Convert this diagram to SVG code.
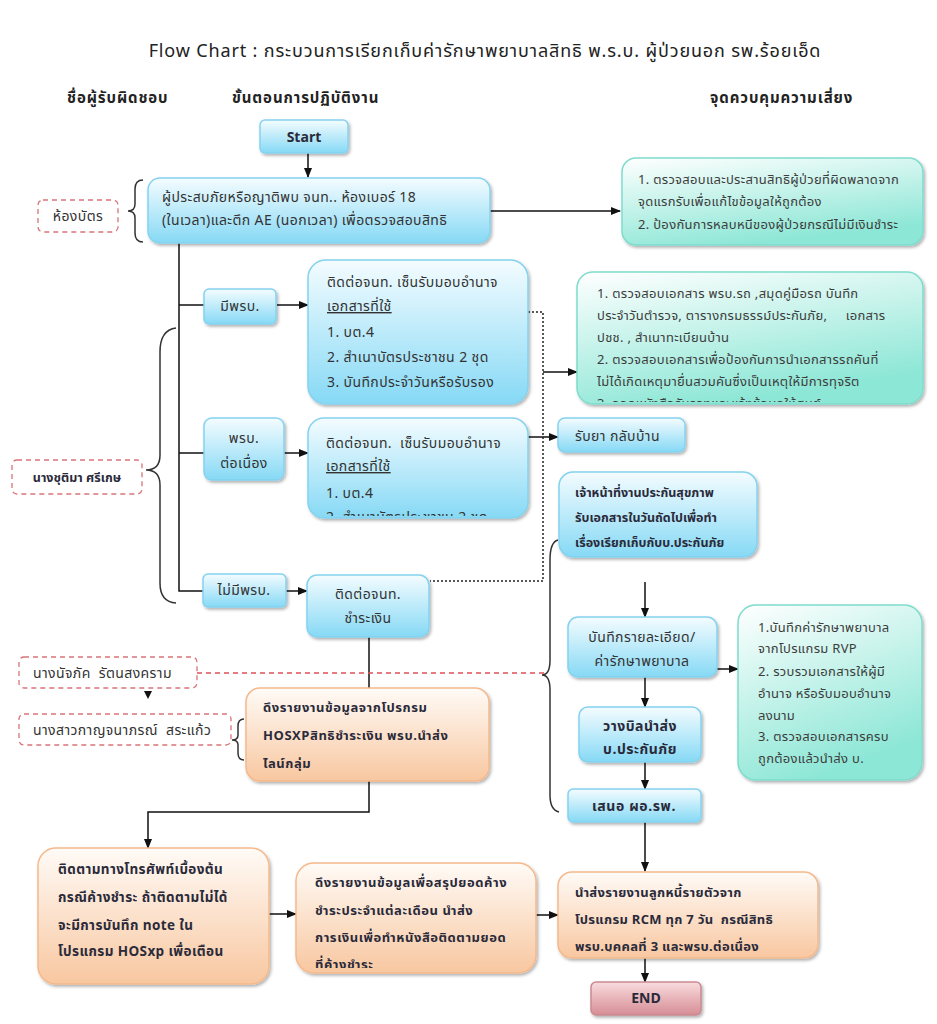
<svg xmlns="http://www.w3.org/2000/svg" width="937" height="1024" viewBox="0 0 937 1024">
<defs>
<style>
text{font-family:"Noto Sans Thai","Noto Sans Thai UI",Tahoma,"Noto Sans","DejaVu Sans",sans-serif;fill:#333;white-space:pre;}
.t{font-size:14px;letter-spacing:0.4px;}
.tb{font-size:13px;font-weight:bold;fill:#2a2a3a;}
.tw{letter-spacing:0.55px;}
.r{font-size:13px;letter-spacing:0.3px;fill:#3c3c3c;}
.h{font-size:15px;font-weight:bold;fill:#222;letter-spacing:0.9px;}
.blue{fill:url(#gBlue);stroke:#84d2ef;stroke-width:1.5;filter:url(#sh);}
.teal{fill:url(#gTeal);stroke:#7fdccd;stroke-width:1.5;filter:url(#sh);}
.org{fill:url(#gOrg);stroke:#f4b98c;stroke-width:1.5;filter:url(#sh);}
.end{fill:url(#gEnd);stroke:#c98a90;stroke-width:1.5;filter:url(#sh);}
.dash{fill:#fff;stroke:#d9747a;stroke-width:1.3;stroke-dasharray:5,4;}
.ln{fill:none;stroke:#111;stroke-width:1.5;}
.arr{fill:none;stroke:#111;stroke-width:1.5;marker-end:url(#ah);}
.dot{fill:none;stroke:#222;stroke-width:1.5;stroke-dasharray:2,2;}
.red{fill:none;stroke:#e0505a;stroke-width:1.3;stroke-dasharray:5,4;}
.br{fill:none;stroke:#333;stroke-width:1.5;}
</style>
<linearGradient id="gBlue" x1="0" y1="0" x2="0" y2="1"><stop offset="0" stop-color="#f4fcff"/><stop offset="1" stop-color="#86d9f5"/></linearGradient>
<linearGradient id="gTeal" x1="0" y1="0" x2="0.4" y2="1"><stop offset="0" stop-color="#ffffff"/><stop offset="1" stop-color="#8de7d6"/></linearGradient>
<linearGradient id="gOrg" x1="0" y1="0" x2="0" y2="1"><stop offset="0" stop-color="#fffbf7"/><stop offset="1" stop-color="#f8c7a0"/></linearGradient>
<linearGradient id="gEnd" x1="0" y1="0" x2="0" y2="1"><stop offset="0" stop-color="#f8dcde"/><stop offset="1" stop-color="#d68d95"/></linearGradient>
<filter id="sh" x="-10%" y="-10%" width="125%" height="130%"><feDropShadow dx="1.5" dy="2" stdDeviation="1.5" flood-color="#000" flood-opacity="0.3"/></filter>
<marker id="ah" markerWidth="10" markerHeight="8" refX="9" refY="4" orient="auto" markerUnits="userSpaceOnUse"><path d="M0,0 L10,4 L0,8 z" fill="#111"/></marker>
<clipPath id="c2"><rect x="577" y="272" width="346" height="130"/></clipPath>
<clipPath id="c3"><rect x="308" y="418" width="220" height="98"/></clipPath>
<clipPath id="cm"><rect x="296" y="863" width="240" height="105"/></clipPath>
<clipPath id="cr"><rect x="558" y="872" width="260" height="80"/></clipPath>
</defs>

<g id="title">
<text x="485" y="57" text-anchor="middle" style="font-size:18px;fill:#222;letter-spacing:0.85px;">Flow Chart : กระบวนการเรียกเก็บค่ารักษาพยาบาลสิทธิ พ.ร.บ. ผู้ป่วยนอก รพ.ร้อยเอ็ด</text>
<text class="h" x="67" y="103">ชื่อผู้รับผิดชอบ</text>
<text class="h" x="232" y="103">ขั้นตอนการปฏิบัติงาน</text>
<text class="h" x="710" y="103">จุดควบคุมความเสี่ยง</text>
</g>

<g id="connectors">
<path class="arr" d="M308,153 V177"/>
<path class="arr" d="M490,211 H620"/>
<path class="ln" d="M179,243 V591 H203"/>
<path class="ln" d="M179,305 H204"/>
<path class="arr" d="M277,305 H308"/>
<path class="ln" d="M179,453 H204"/>
<path class="arr" d="M284,453 H308"/>
<path class="arr" d="M528,437 H558"/>
<path class="dot" d="M528,312 H543 V581 H430"/>
<path class="arr" d="M543,372 H577"/>
<path class="arr" d="M286,591 H307"/>
<path class="ln" d="M369,637 V688"/>
<path class="arr" d="M369,781 V812 H148 V848"/>
<path class="arr" d="M269,914 H296"/>
<path class="arr" d="M536,915 H558"/>
<path class="arr" d="M645,478 V500"/>
<path class="arr" d="M645,582 V617"/>
<path class="arr" d="M717,669 H738"/>
<path class="arr" d="M645,677 V707"/>
<path class="arr" d="M645,762 V789"/>
<path class="arr" d="M645,822 V871"/>
<path class="arr" d="M645,958 V982"/>
<path class="red" d="M197,673 H545"/>
<polygon points="144,691 152,691 148,699" fill="#111"/>
<path class="br" d="M143,180 Q135,180 135,189 L135,204 Q135,211 128,211 Q135,211 135,218 L135,233 Q135,242 143,242"/>
<path class="br" d="M176,328 Q160,330 160,352 L160,455 Q160,470 146,470 Q160,470 160,485 L160,583 Q160,602 176,603"/>
<path class="br" d="M244,719 Q238,719 238,726 L238,735 Q238,740 232,740 Q238,740 238,745 L238,753 Q238,760 244,760"/>
<path class="br" d="M558,540 Q550,542 550,560 L550,660 Q550,675 542,675 Q550,675 550,690 L550,795 Q550,810 559,812"/>
</g>

<g id="start">
<rect class="blue" x="260" y="120" width="88" height="33" rx="5"/>
<text class="tb" x="304" y="142" text-anchor="middle" style="font-size:14px;">Start</text>
</g>

<g id="box1">
<rect class="blue" x="148" y="178" width="342" height="65" rx="12"/>
<text class="t" x="162" y="202">ผู้ประสบภัยหรือญาติพบ จนท.. ห้องเบอร์ 18</text>
<text class="t" x="162" y="225">(ในเวลา)และตึก AE (นอกเวลา) เพื่อตรวจสอบสิทธิ</text>
</g>

<g id="room">
<rect class="dash" x="38" y="200" width="80" height="32" rx="5"/>
<text class="t" x="78" y="221" text-anchor="middle">ห้องบัตร</text>
</g>

<g id="risk1">
<rect class="teal" x="622" y="158" width="301" height="87" rx="14"/>
<text class="r" x="638" y="184">1. ตรวจสอบและประสานสิทธิผู้ป่วยที่ผิดพลาดจาก</text>
<text class="r" x="638" y="206">จุดแรกรับเพื่อแก้ไขข้อมูลให้ถูกต้อง</text>
<text class="r" x="638" y="229">2. ป้องกันการหลบหนีของผู้ป่วยกรณีไม่มีเงินชำระ</text>
</g>

<g id="has">
<rect class="blue" x="204" y="289" width="72" height="35" rx="5"/>
<text class="t" x="240" y="311" text-anchor="middle">มีพรบ.</text>
</g>

<g id="box2">
<rect class="blue" x="308" y="260" width="220" height="144" rx="18"/>
<text class="t" x="327" y="287">ติดต่อจนท. เซ็นรับมอบอำนาจ</text>
<text class="t" x="327" y="311" text-decoration="underline">เอกสารที่ใช้</text>
<text class="t" x="327" y="337">1. บต.4</text>
<text class="t" x="327" y="362">2. สำเนาบัตรประชาชน 2 ชุด</text>
<text class="t" x="327" y="387">3. บันทึกประจำวันหรือรับรอง</text>
</g>

<g id="risk2">
<rect class="teal" x="577" y="272" width="346" height="132" rx="16"/>
<g clip-path="url(#c2)">
<text class="r" x="597" y="298">1. ตรวจสอบเอกสาร พรบ.รถ ,สมุดคู่มือรถ บันทึก</text>
<text class="r" x="597" y="320">ประจำวันตำรวจ, ตารางกรมธรรม์ประกันภัย,     เอกสาร</text>
<text class="r" x="597" y="342">ปชช. , สำเนาทะเบียนบ้าน</text>
<text class="r" x="597" y="364">2. ตรวจสอบเอกสารเพื่อป้องกันการนำเอกสารรถคันที่</text>
<text class="r" x="597" y="386">ไม่ได้เกิดเหตุมายื่นสวมคันซึ่งเป็นเหตุให้มีการทุจริต</text>
<text class="r" x="597" y="408">3. ออกหนังสือรับรองและแจ้งข้อมูลให้ศูนย์</text>
</g>
</g>

<g id="cont">
<rect class="blue" x="204" y="418" width="80" height="62" rx="8"/>
<text class="t" x="244" y="443" text-anchor="middle">พรบ.</text>
<text class="t" x="244" y="468" text-anchor="middle">ต่อเนื่อง</text>
</g>

<g id="box3">
<rect class="blue" x="308" y="418" width="220" height="100" rx="16"/>
<g clip-path="url(#c3)">
<text class="t" x="326" y="448">ติดต่อจนท.  เซ็นรับมอบอำนาจ</text>
<text class="t" x="326" y="471" text-decoration="underline">เอกสารที่ใช้</text>
<text class="t" x="326" y="498">1. บต.4</text>
<text class="t" x="326" y="522">2. สำเนาบัตรประชาชน 2 ชุด</text>
</g>
</g>

<g id="home">
<rect class="blue" x="558" y="418" width="127" height="34" rx="7"/>
<text class="t" x="575" y="441">รับยา กลับบ้าน</text>
</g>

<g id="staff">
<rect class="blue" x="559" y="472" width="198" height="85" rx="14"/>
<text class="tb" x="575" y="497" style="font-size:12.5px;">เจ้าหน้าที่งานประกันสุขภาพ</text>
<text class="tb" x="575" y="522" style="font-size:12.5px;">รับเอกสารในวันถัดไปเพื่อทำ</text>
<text class="tb" x="575" y="547" style="font-size:12.5px;">เรื่องเรียกเก็บกับบ.ประกันภัย</text>
</g>

<g id="chutima">
<rect class="dash" x="12" y="460" width="130" height="34" rx="5"/>
<text class="tb" x="77" y="482" text-anchor="middle" style="font-size:12.5px;">นางชุติมา ศรีเกษ</text>
</g>

<g id="nohas">
<rect class="blue" x="203" y="574" width="83" height="33" rx="5"/>
<text class="t" x="244" y="595" text-anchor="middle">ไม่มีพรบ.</text>
</g>

<g id="pay">
<rect class="blue" x="307" y="575" width="122" height="62" rx="10"/>
<text class="t" x="368" y="599" text-anchor="middle">ติดต่อจนท.</text>
<text class="t" x="368" y="623" text-anchor="middle">ชำระเงิน</text>
</g>

<g id="natchaphak">
<rect class="dash" x="19" y="657" width="178" height="31" rx="5"/>
<text class="t" x="33" y="678">นางนัจภัค  รัตนสงคราม</text>
</g>

<g id="kanchana">
<rect class="dash" x="19" y="714" width="212" height="31" rx="5"/>
<text class="t" x="33" y="735">นางสาวกาญจนาภรณ์  สระแก้ว</text>
</g>

<g id="hosxp">
<rect class="org" x="246" y="688" width="243" height="93" rx="14"/>
<text class="tb tw" x="263" y="712">ดึงรายงานข้อมูลจากโปรกรม</text>
<text class="tb tw" x="263" y="740">HOSXPสิทธิชำระเงิน พรบ.นำส่ง</text>
<text class="tb tw" x="263" y="768">ไลน์กลุ่ม</text>
</g>

<g id="record">
<rect class="blue" x="568" y="617" width="149" height="60" rx="10"/>
<text class="t" x="642" y="642" text-anchor="middle">บันทึกรายละเอียด/</text>
<text class="t" x="642" y="666" text-anchor="middle">ค่ารักษาพยาบาล</text>
</g>

<g id="risk3">
<rect class="teal" x="738" y="605" width="184" height="175" rx="18"/>
<text class="r" x="758" y="632">1.บันทึกค่ารักษาพยาบาล</text>
<text class="r" x="758" y="653">จากโปรแกรม RVP</text>
<text class="r" x="758" y="676">2. รวบรวมเอกสารให้ผู้มี</text>
<text class="r" x="758" y="698">อำนาจ หรือรับมอบอำนาจ</text>
<text class="r" x="758" y="720">ลงนาม</text>
<text class="r" x="758" y="741">3. ตรวจสอบเอกสารครบ</text>
<text class="r" x="758" y="763">ถูกต้องแล้วนำส่ง บ.</text>
</g>

<g id="bill">
<rect class="blue" x="579" y="707" width="122" height="55" rx="9"/>
<text class="tb" x="640" y="731" text-anchor="middle" style="font-size:14px;letter-spacing:0.5px;">วางบิลนำส่ง</text>
<text class="tb" x="640" y="754" text-anchor="middle" style="font-size:14px;letter-spacing:0.5px;">บ.ประกันภัย</text>
</g>

<g id="director">
<rect class="blue" x="568" y="789" width="133" height="33" rx="5"/>
<text class="tb" x="634" y="811" text-anchor="middle" style="font-size:14px;letter-spacing:0.6px;">เสนอ ผอ.รพ.</text>
</g>

<g id="follow">
<rect class="org" x="38" y="848" width="231" height="136" rx="18"/>
<text class="tb" x="58" y="874" style="font-size:13.5px;letter-spacing:0.4px;">ติดตามทางโทรศัพท์เบื้องต้น</text>
<text class="tb" x="58" y="902" style="font-size:13.5px;letter-spacing:0.4px;">กรณีค้างชำระ ถ้าติดตามไม่ได้</text>
<text class="tb" x="58" y="930" style="font-size:13.5px;letter-spacing:0.4px;">จะมีการบันทึก note ใน</text>
<text class="tb" x="58" y="956" style="font-size:13.5px;letter-spacing:0.4px;">โปรแกรม HOSxp เพื่อเตือน</text>
</g>

<g id="summary">
<rect class="org" x="296" y="863" width="240" height="110" rx="18"/>
<g clip-path="url(#cm)">
<text class="tb tw" x="315" y="887">ดึงรายงานข้อมูลเพื่อสรุปยอดค้าง</text>
<text class="tb tw" x="315" y="915">ชำระประจำแต่ละเดือน นำส่ง</text>
<text class="tb tw" x="315" y="942">การเงินเพื่อทำหนังสือติดตามยอด</text>
<text class="tb tw" x="315" y="969">ที่ค้างชำระ</text>
</g>
</g>

<g id="debtor">
<rect class="org" x="558" y="872" width="260" height="86" rx="14"/>
<g clip-path="url(#cr)">
<text class="tb" x="575" y="897" style="letter-spacing:0.3px;">นำส่งรายงานลูกหนี้รายตัวจาก</text>
<text class="tb" x="575" y="924" style="letter-spacing:0.3px;">โปรแกรม RCM ทุก 7 วัน  กรณีสิทธิ</text>
<text class="tb" x="575" y="951" style="letter-spacing:0.3px;">พรบ.บุคคลที่ 3 และพรบ.ต่อเนื่อง</text>
</g>
</g>

<g id="end">
<rect class="end" x="591" y="982" width="110" height="33" rx="5"/>
<text class="tb" x="646" y="1003" text-anchor="middle" style="font-size:14px;">END</text>
</g>
</svg>
